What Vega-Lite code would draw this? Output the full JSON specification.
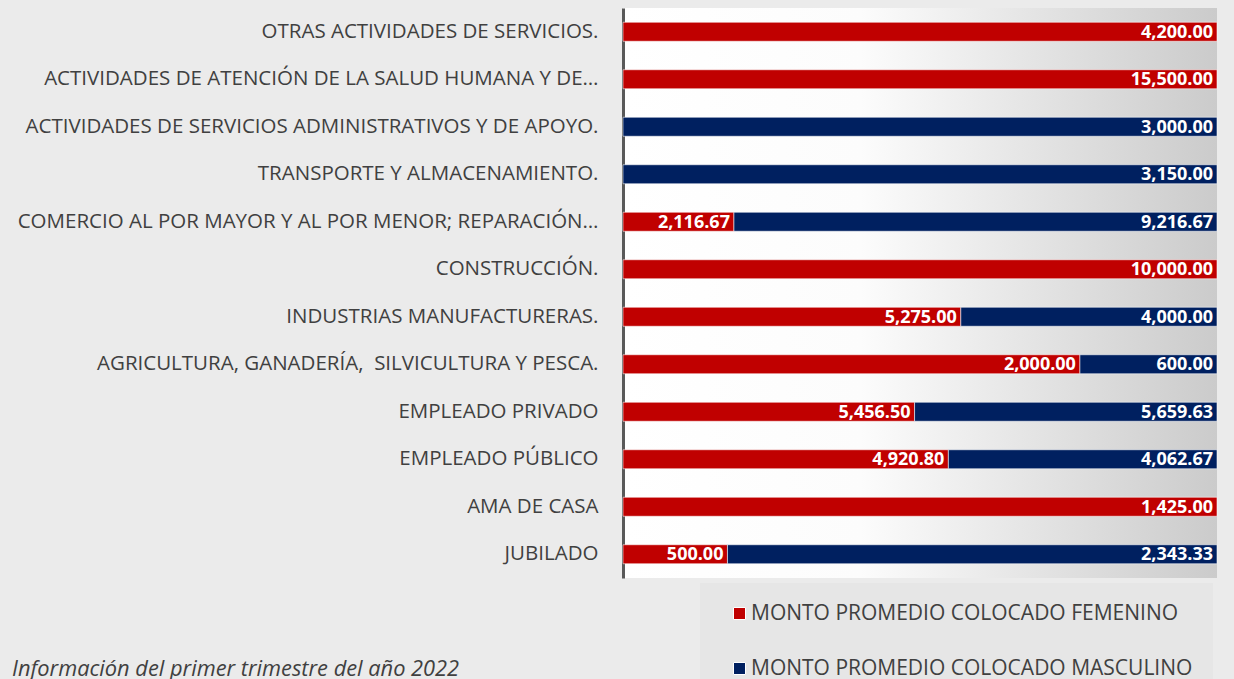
{
  "$schema": "https://vega.github.io/schema/vega-lite/v6.json",
  "width": 594,
  "height": 570,
  "autosize": {"type": "none"},
  "padding": {"left": 623, "top": 8, "right": 17, "bottom": 101},
  "background": "#ebebeb",
  "config": {
    "font": "Open Sans",
    "view": {
      "stroke": null,
      "fill": {"gradient": "linear", "x1": 0, "y1": 0, "x2": 1, "y2": 0,
        "stops": [{"offset": 0, "color": "#ffffff"}, {"offset": 0.4, "color": "#fcfcfc"}, {"offset": 1, "color": "#cbcbcb"}]}
    }
  },
  "title": {
    "text": "Información del primer trimestre del año 2022",
    "orient": "top", "anchor": "start", "frame": "group", "baseline": "alphabetic",
    "dx": -611, "offset": -690,
    "fontSize": 21.8, "fontStyle": "italic", "fontWeight": "normal", "color": "#404040", "font": "Open Sans"
  },
  "data": {
    "values": [
      {"categoria": "OTRAS ACTIVIDADES DE SERVICIOS.", "sexo": "MONTO PROMEDIO COLOCADO FEMENINO", "monto": 4200.00},
      {"categoria": "ACTIVIDADES DE ATENCIÓN DE LA SALUD HUMANA Y DE…", "sexo": "MONTO PROMEDIO COLOCADO FEMENINO", "monto": 15500.00},
      {"categoria": "ACTIVIDADES DE SERVICIOS ADMINISTRATIVOS Y DE APOYO.", "sexo": "MONTO PROMEDIO COLOCADO MASCULINO", "monto": 3000.00},
      {"categoria": "TRANSPORTE Y ALMACENAMIENTO.", "sexo": "MONTO PROMEDIO COLOCADO MASCULINO", "monto": 3150.00},
      {"categoria": "COMERCIO AL POR MAYOR Y AL POR MENOR; REPARACIÓN…", "sexo": "MONTO PROMEDIO COLOCADO FEMENINO", "monto": 2116.67},
      {"categoria": "COMERCIO AL POR MAYOR Y AL POR MENOR; REPARACIÓN…", "sexo": "MONTO PROMEDIO COLOCADO MASCULINO", "monto": 9216.67},
      {"categoria": "CONSTRUCCIÓN.", "sexo": "MONTO PROMEDIO COLOCADO FEMENINO", "monto": 10000.00},
      {"categoria": "INDUSTRIAS MANUFACTURERAS.", "sexo": "MONTO PROMEDIO COLOCADO FEMENINO", "monto": 5275.00},
      {"categoria": "INDUSTRIAS MANUFACTURERAS.", "sexo": "MONTO PROMEDIO COLOCADO MASCULINO", "monto": 4000.00},
      {"categoria": "AGRICULTURA, GANADERÍA,\u00a0 SILVICULTURA Y PESCA.", "sexo": "MONTO PROMEDIO COLOCADO FEMENINO", "monto": 2000.00},
      {"categoria": "AGRICULTURA, GANADERÍA,\u00a0 SILVICULTURA Y PESCA.", "sexo": "MONTO PROMEDIO COLOCADO MASCULINO", "monto": 600.00},
      {"categoria": "EMPLEADO PRIVADO", "sexo": "MONTO PROMEDIO COLOCADO FEMENINO", "monto": 5456.50},
      {"categoria": "EMPLEADO PRIVADO", "sexo": "MONTO PROMEDIO COLOCADO MASCULINO", "monto": 5659.63},
      {"categoria": "EMPLEADO PÚBLICO", "sexo": "MONTO PROMEDIO COLOCADO FEMENINO", "monto": 4920.80},
      {"categoria": "EMPLEADO PÚBLICO", "sexo": "MONTO PROMEDIO COLOCADO MASCULINO", "monto": 4062.67},
      {"categoria": "AMA DE CASA", "sexo": "MONTO PROMEDIO COLOCADO FEMENINO", "monto": 1425.00},
      {"categoria": "JUBILADO", "sexo": "MONTO PROMEDIO COLOCADO FEMENINO", "monto": 500.00},
      {"categoria": "JUBILADO", "sexo": "MONTO PROMEDIO COLOCADO MASCULINO", "monto": 2343.33}
    ]
  },
  "encoding": {
    "y": {
      "field": "categoria", "type": "nominal", "title": null,
      "sort": ["OTRAS ACTIVIDADES DE SERVICIOS.", "ACTIVIDADES DE ATENCIÓN DE LA SALUD HUMANA Y DE…", "ACTIVIDADES DE SERVICIOS ADMINISTRATIVOS Y DE APOYO.", "TRANSPORTE Y ALMACENAMIENTO.", "COMERCIO AL POR MAYOR Y AL POR MENOR; REPARACIÓN…", "CONSTRUCCIÓN.", "INDUSTRIAS MANUFACTURERAS.", "AGRICULTURA, GANADERÍA,\u00a0 SILVICULTURA Y PESCA.", "EMPLEADO PRIVADO", "EMPLEADO PÚBLICO", "AMA DE CASA", "JUBILADO"],
      "scale": {"paddingInner": 0.6, "paddingOuter": 0.3},
      "axis": {
        "domainColor": "#595959", "domainWidth": 3, "ticks": false,
        "labelFontSize": 20.5, "labelColor": "#404040", "labelPadding": 25, "labelLimit": 0, "labelFont": "Open Sans"
      }
    },
    "x": {"field": "monto", "type": "quantitative", "stack": "normalize", "axis": null},
    "order": {"field": "sexo", "type": "nominal", "sort": "ascending"}
  },
  "layer": [
    {
      "mark": {"type": "bar", "stroke": "#ffffff", "strokeOpacity": 0.55, "strokeWidth": 1},
      "encoding": {
        "color": {
          "field": "sexo", "type": "nominal",
          "scale": {"domain": ["MONTO PROMEDIO COLOCADO FEMENINO", "MONTO PROMEDIO COLOCADO MASCULINO"], "range": ["#c00000", "#002060"]},
          "legend": {
            "title": null, "orient": "none", "legendX": 77, "legendY": 575,
            "direction": "vertical",
            "fillColor": "#e6e6e6", "padding": 20, "symbolOffset": 9,
            "symbolType": "square", "symbolSize": 144, "symbolStrokeColor": "#ffffff", "symbolStrokeWidth": 1,
            "labelFontSize": 21, "labelColor": "#404040", "labelFont": "Open Sans", "labelOffset": 1, "labelLimit": 0,
            "rowPadding": 33
          }
        }
      }
    },
    {
      "mark": {"type": "text", "align": "right", "baseline": "middle", "dx": -4, "dy": 1, "color": "#ffffff", "fontWeight": "bold", "fontSize": 18, "font": "Open Sans"},
      "encoding": {
        "text": {"field": "monto", "type": "quantitative", "format": ",.2f"},
        "detail": {"field": "sexo", "type": "nominal"}
      }
    }
  ]
}
